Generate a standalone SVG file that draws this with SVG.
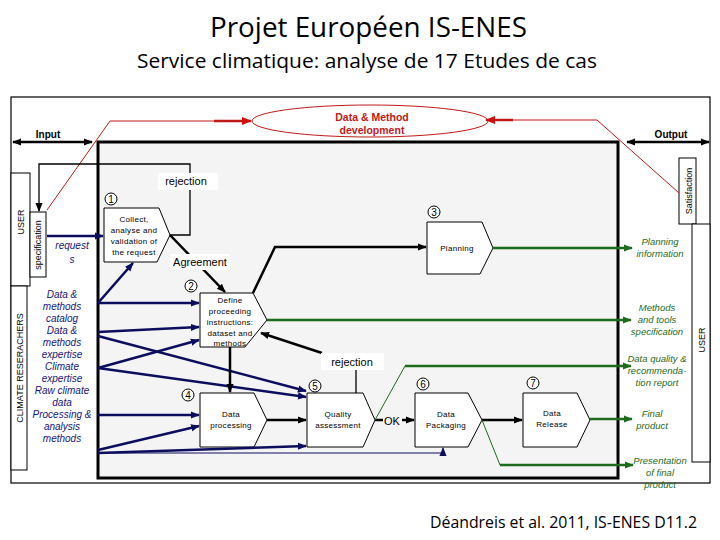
<svg xmlns="http://www.w3.org/2000/svg" width="720" height="540" viewBox="0 0 720 540">
<defs>
<marker id="ak" viewBox="0 0 10 10" refX="9" refY="5" markerWidth="9" markerHeight="9" markerUnits="userSpaceOnUse" orient="auto-start-reverse"><path d="M0,1 L10,5 L0,9 z" fill="#000"/></marker>
<marker id="an" viewBox="0 0 10 10" refX="9" refY="5" markerWidth="9" markerHeight="9" markerUnits="userSpaceOnUse" orient="auto"><path d="M0,1 L10,5 L0,9 z" fill="#0d0d5e"/></marker>
<marker id="ag" viewBox="0 0 10 10" refX="9" refY="5" markerWidth="9" markerHeight="9" markerUnits="userSpaceOnUse" orient="auto"><path d="M0,1 L10,5 L0,9 z" fill="#1e6b1e"/></marker>
<marker id="ar" viewBox="0 0 10 10" refX="9" refY="5" markerWidth="10" markerHeight="10" markerUnits="userSpaceOnUse" orient="auto"><path d="M0,1 L10,5 L0,9 z" fill="#d01010"/></marker>
<style>
.t{font-family:"Liberation Sans",Arial,sans-serif}
.title{font-family:"Open Sans","Liberation Sans",sans-serif;fill:#000}
.nd{fill:#fff;stroke:#000;stroke-width:1}
.nt{font-family:"Liberation Sans",Arial,sans-serif;font-size:8px;text-anchor:middle;letter-spacing:0.3px}
.num{fill:#fff;stroke:#000;stroke-width:1}
.nn{font-family:"Liberation Sans",Arial,sans-serif;font-size:10px;text-anchor:middle}
.blu{stroke:#0d0d5e;stroke-width:2.5;fill:none}
.blk{stroke:#000;stroke-width:2.5;fill:none}
.blk1{stroke:#000;stroke-width:1.3;fill:none}
.grn{stroke:#1e6b1e;stroke-width:2.5;fill:none}
.grn1{stroke:#1e6b1e;stroke-width:1;fill:none}
.red{stroke:#c01818;stroke-width:1;fill:none}
.it-b{font-family:"Liberation Sans",Arial,sans-serif;font-size:10px;font-style:italic;fill:#14147a;text-anchor:middle}
.it-g{font-family:"Liberation Sans",Arial,sans-serif;font-size:9.5px;font-style:italic;fill:#1e6b1e;text-anchor:middle}
.lbl{font-family:"Liberation Sans",Arial,sans-serif;font-size:11px;text-anchor:middle}
.side{font-family:"Liberation Sans",Arial,sans-serif;font-size:9px;text-anchor:middle}
</style>
</defs>
<rect width="720" height="540" fill="#fff"/>
<text class="title" x="210" y="37" font-size="27" textLength="317" lengthAdjust="spacingAndGlyphs">Projet Européen IS-ENES</text>
<text class="title" x="137" y="68" font-size="20" textLength="460" lengthAdjust="spacingAndGlyphs">Service climatique: analyse de 17 Etudes de cas</text>
<text class="title" x="430" y="528" font-size="16" textLength="267" lengthAdjust="spacingAndGlyphs">Déandreis et al. 2011, IS-ENES D11.2</text>

<g id="frame">
<rect x="11" y="97" width="699" height="386" fill="#fff" stroke="#000" stroke-width="1.2"/>
<rect x="98" y="142" width="520" height="336" fill="#f4f4f4" stroke="#000" stroke-width="3"/>
</g>

<g id="user-left">
<rect x="11" y="173" width="19" height="113" fill="#fff" stroke="#000" stroke-width="1"/>
<text class="side" transform="translate(24,222) rotate(-90)">USER</text>
</g>
<g id="specification">
<rect x="30" y="212" width="16" height="65" fill="#fff" stroke="#000" stroke-width="1"/>
<text class="side" font-size="8" transform="translate(41,245) rotate(-90)">specification</text>
</g>
<g id="climate-researchers">
<rect x="11" y="286" width="16" height="184" fill="#fff" stroke="#000" stroke-width="1"/>
<text class="side" transform="translate(23,368) rotate(-90)">CLIMATE RESERACHERS</text>
</g>
<g id="satisfaction">
<rect x="679" y="158" width="17" height="66" fill="#fff" stroke="#000" stroke-width="1"/>
<text class="side" transform="translate(692,191) rotate(-90)">Satisfaction</text>
</g>
<g id="user-right">
<rect x="692" y="224" width="18" height="238" fill="#fff" stroke="#000" stroke-width="1"/>
<text class="side" transform="translate(705,340) rotate(-90)">USER</text>
</g>

<g id="data-method">
<ellipse cx="370" cy="121" rx="118" ry="16" fill="#fff" stroke="#c01818" stroke-width="1"/>
<text class="t" x="372" y="121" font-size="10.5" font-weight="bold" fill="#c01818" text-anchor="middle">Data &amp; Method</text>
<text class="t" x="372" y="134" font-size="10.5" font-weight="bold" fill="#c01818" text-anchor="middle">development</text>
</g>

<g id="n1">
<polygon class="nd" points="104,208 159,208 170,235 157,262 104,262"/>
<text class="nt" x="134" y="222">Collect,</text>
<text class="nt" x="134" y="233">analyse and</text>
<text class="nt" x="134" y="244">validation of</text>
<text class="nt" x="134" y="255">the request</text>
<circle class="num" cx="111" cy="199" r="6"/><text class="nn" x="111" y="203">1</text>
</g>
<g id="n2">
<polygon class="nd" points="200,293 253,293 267,320 245,347 200,347"/>
<text class="nt" x="230" y="303">Define</text>
<text class="nt" x="230" y="314">proceeding</text>
<text class="nt" x="230" y="325">instructions:</text>
<text class="nt" x="230" y="336">dataset and</text>
<text class="nt" x="230" y="346">methods</text>
<circle class="num" cx="191" cy="286" r="6"/><text class="nn" x="191" y="290">2</text>
</g>
<g id="n3">
<polygon class="nd" points="427,222 482,222 493,248 480,274 427,274"/>
<text class="nt" x="457" y="251">Planning</text>
<circle class="num" cx="434" cy="212" r="6"/><text class="nn" x="434" y="216">3</text>
</g>
<g id="n4">
<polygon class="nd" points="200,393 254,393 267,420 254,447 200,447"/>
<text class="nt" x="231" y="417">Data</text>
<text class="nt" x="231" y="428">processing</text>
<circle class="num" cx="188" cy="395" r="6"/><text class="nn" x="188" y="399">4</text>
</g>
<g id="n5">
<polygon class="nd" points="307,393 363,393 375,420 363,447 307,447"/>
<text class="nt" x="338" y="417">Quality</text>
<text class="nt" x="338" y="428">assessment</text>
<circle class="num" cx="315" cy="386" r="6"/><text class="nn" x="315" y="390">5</text>
</g>
<g id="n6">
<polygon class="nd" points="415,393 468,393 482,420 468,447 415,447"/>
<text class="nt" x="446" y="417">Data</text>
<text class="nt" x="446" y="428">Packaging</text>
<circle class="num" cx="423" cy="384" r="6"/><text class="nn" x="423" y="388">6</text>
</g>
<g id="n7">
<polygon class="nd" points="523,393 577,393 590,420 577,447 523,447"/>
<text class="nt" x="552" y="416">Data</text>
<text class="nt" x="552" y="427">Release</text>
<circle class="num" cx="533" cy="383" r="6"/><text class="nn" x="533" y="387">7</text>
</g>

<g id="labels">
<text class="t" x="48" y="138" font-size="10" font-weight="bold" text-anchor="middle">Input</text>
<text class="t" x="671" y="138" font-size="10" font-weight="bold" text-anchor="middle">Output</text>
<text class="it-b" x="72" y="249">request</text>
<text class="it-b" x="72" y="263">s</text>
<text class="it-b" x="62" y="298">Data &amp;</text>
<text class="it-b" x="62" y="310">methods</text>
<text class="it-b" x="62" y="322">catalog</text>
<text class="it-b" x="62" y="334">Data &amp;</text>
<text class="it-b" x="62" y="346">methods</text>
<text class="it-b" x="62" y="358">expertise</text>
<text class="it-b" x="62" y="370">Climate</text>
<text class="it-b" x="62" y="382">expertise</text>
<text class="it-b" x="62" y="394">Raw climate</text>
<text class="it-b" x="62" y="406">data</text>
<text class="it-b" x="62" y="418">Processing &amp;</text>
<text class="it-b" x="62" y="430">analysis</text>
<text class="it-b" x="62" y="442">methods</text>
<text class="it-g" x="660" y="245">Planning</text>
<text class="it-g" x="660" y="257">information</text>
<text class="it-g" x="657" y="311">Methods</text>
<text class="it-g" x="657" y="323">and tools</text>
<text class="it-g" x="657" y="335">specification</text>
<text class="it-g" x="657" y="362">Data quality &amp;</text>
<text class="it-g" x="657" y="374">recommenda-</text>
<text class="it-g" x="657" y="386">tion report</text>
<text class="it-g" x="652" y="417">Final</text>
<text class="it-g" x="652" y="429">product</text>
<text class="it-g" x="660" y="464">Presentation</text>
<text class="it-g" x="660" y="476">of final</text>
<text class="it-g" x="660" y="488">product</text>
</g>

<g id="connectors">
<line class="blk" x1="13" y1="142" x2="92" y2="142" stroke-width="1.8" marker-start="url(#ak)" marker-end="url(#ak)"/>
<line class="blk" x1="627" y1="142" x2="709" y2="142" stroke-width="1.8" marker-start="url(#ak)" marker-end="url(#ak)"/>
<polyline class="red" points="47,210 110,121 214,121"/>
<line x1="214" y1="121" x2="251" y2="121" stroke="#c01818" stroke-width="2.5" marker-end="url(#ar)"/>
<polyline class="red" points="679,193 597,120 513,120"/>
<line x1="513" y1="120" x2="486" y2="120" stroke="#c01818" stroke-width="2.5" marker-end="url(#ar)"/>
<polyline class="blk1" points="170,235 190,235 190,164 39,164 39,211" marker-end="url(#ak)"/>
<rect x="158" y="173" width="60" height="17" fill="#fff"/>
<text class="lbl" x="186" y="185">rejection</text>
<line class="blk" x1="170" y1="235" x2="225" y2="292" marker-end="url(#ak)"/>
<rect x="170" y="254" width="60" height="16" fill="#fff"/>
<text class="lbl" x="200" y="266">Agreement</text>
<line class="blu" x1="47" y1="236" x2="103" y2="236" marker-end="url(#an)"/>
<line class="blu" x1="98" y1="303" x2="133" y2="263" marker-end="url(#an)"/>
<line class="blu" x1="98" y1="303" x2="199" y2="303" marker-end="url(#an)"/>
<line class="blu" x1="98" y1="332" x2="199" y2="327" marker-end="url(#an)"/>
<line class="blu" x1="98" y1="336" x2="306" y2="391" marker-end="url(#an)"/>
<line class="blu" x1="98" y1="368" x2="199" y2="340" marker-end="url(#an)"/>
<line class="blu" x1="98" y1="368" x2="306" y2="397" marker-end="url(#an)"/>
<line class="blu" x1="98" y1="415" x2="199" y2="415" marker-end="url(#an)"/>
<line class="blu" x1="98" y1="450" x2="199" y2="426" marker-end="url(#an)"/>
<line class="blu" x1="98" y1="453" x2="306" y2="446" marker-end="url(#an)"/>
<polyline points="98,453 443,453 443,448" fill="none" stroke="#0d0d5e" stroke-width="1" marker-end="url(#an)"/>
<polyline class="blk" points="253,293 275,247 426,247" marker-end="url(#ak)"/>
<line class="blk" x1="230" y1="347" x2="230" y2="392" marker-end="url(#ak)"/>
<line class="blk" x1="267" y1="420" x2="306" y2="420" marker-end="url(#ak)"/>
<line class="blk" x1="375" y1="420" x2="414" y2="420" marker-end="url(#ak)"/>
<rect x="383" y="412" width="19" height="16" fill="#f4f4f4"/>
<text class="lbl" x="392" y="425">OK</text>
<line class="blk" x1="482" y1="420" x2="522" y2="420" marker-end="url(#ak)"/>
<line class="blk1" x1="356" y1="370" x2="356" y2="393"/>
<line class="blk" x1="322" y1="353" x2="261" y2="333" marker-end="url(#ak)"/>
<rect x="321" y="353" width="63" height="17" fill="#fff"/>
<text class="lbl" x="352" y="366">rejection</text>
<line class="grn" x1="493" y1="248" x2="632" y2="248" marker-end="url(#ag)"/>
<line class="grn" x1="267" y1="320" x2="631" y2="320" marker-end="url(#ag)"/>
<line class="grn1" x1="375" y1="420" x2="405" y2="366"/>
<line class="grn" x1="405" y1="366" x2="631" y2="366" marker-end="url(#ag)"/>
<line class="grn" x1="590" y1="419" x2="632" y2="419" marker-end="url(#ag)"/>
<line class="grn1" x1="482" y1="420" x2="500" y2="465"/>
<line class="grn" x1="500" y1="465" x2="633" y2="465" marker-end="url(#ag)"/>
</g>
</svg>
